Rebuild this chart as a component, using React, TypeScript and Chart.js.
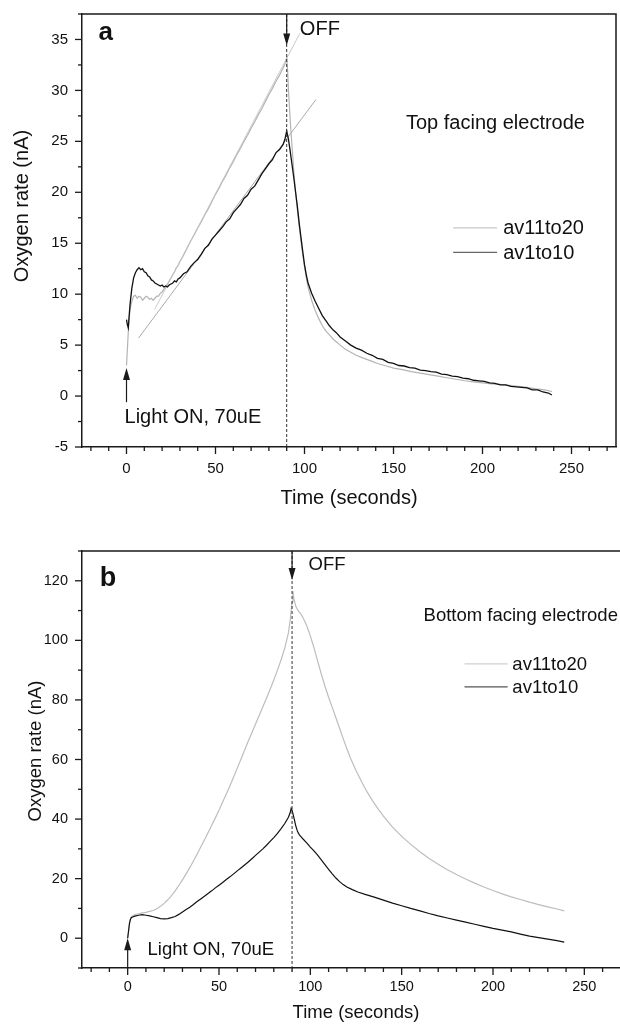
import React, { useEffect, useRef } from "react";
import { Chart, registerables } from "chart.js";
Chart.register(...registerables);

// ---------- DATA ----------
const seriesLabels = ["av11to20", "av1to10"];
const xAxisTitle = "Time (seconds)";
const yAxisTitle = "Oxygen rate (nA)";

// Panel a (top facing electrode): [time s, rate nA]
const topAv1to10: [number, number][] = [
  [0, 7.5], [0.5, 7.0], [1, 6.7], [1.5, 7.9], [2, 9.0], [3, 10.6], [4, 11.6], [5, 12.1], [6, 12.4], [7, 12.6],
  [8, 12.4], [9, 12.5], [10, 12.2], [11, 12.1], [12, 11.8], [13, 11.7], [14, 11.4], [15, 11.3], [16, 11.1], [17, 11.0],
  [18, 10.9], [19, 10.8], [20, 10.9], [21, 10.7], [22, 10.8], [23, 10.7], [24, 10.9], [25, 11.0], [26, 11.1], [27, 11.3],
  [28, 11.2], [29, 11.5], [30, 11.6], [32, 12.0], [34, 12.2], [36, 12.7], [38, 13.1], [40, 13.4], [42, 13.9], [44, 14.5],
  [46, 14.8], [48, 15.4], [50, 15.8], [52, 16.2], [54, 16.6], [56, 17.1], [58, 17.4], [60, 18.0], [62, 18.4], [64, 18.8],
  [66, 19.4], [68, 19.7], [70, 20.3], [72, 20.6], [74, 21.2], [76, 21.8], [78, 22.3], [80, 22.8], [82, 23.2], [84, 23.9],
  [86, 24.2], [88, 24.7], [89, 25.2], [90, 26.0], [91, 25.2], [92, 24.0], [93, 22.7], [94, 21.4], [95, 20.0], [96, 18.6],
  [97, 17.0], [98, 15.6], [99, 14.2], [100, 12.9], [101, 11.9], [102, 11.1], [104, 10.1], [106, 9.3], [108, 8.6], [110, 7.9],
  [112, 7.4], [114, 6.9], [116, 6.5], [118, 6.2], [120, 5.8], [123, 5.4], [126, 5.0], [129, 4.7], [132, 4.5], [135, 4.2],
  [138, 4.0], [141, 3.7], [144, 3.6], [147, 3.3], [150, 3.2], [153, 3.0], [156, 2.95], [159, 2.8], [162, 2.75], [165, 2.55],
  [168, 2.5], [171, 2.4], [174, 2.35], [177, 2.15], [180, 2.1], [183, 1.95], [186, 1.9], [189, 1.75], [192, 1.7], [195, 1.55],
  [198, 1.5], [201, 1.45], [204, 1.3], [207, 1.25], [210, 1.1], [213, 1.1], [216, 0.95], [219, 0.9], [222, 0.85], [225, 0.8],
  [228, 0.6], [231, 0.6], [234, 0.4], [237, 0.3], [239, 0.1],
];
const topAv11to20: [number, number][] = [
  [0, 3.0], [0.5, 4.6], [1, 6.3], [1.5, 7.6], [2, 8.5], [3, 9.3], [4, 9.8], [5, 9.9], [6, 9.6], [7, 9.8],
  [8, 9.7], [9, 9.4], [10, 9.6], [11, 9.8], [12, 9.7], [13, 9.5], [14, 9.6], [15, 9.4], [16, 9.6], [17, 9.8],
  [18, 9.8], [19, 10.1], [20, 10.2], [21, 10.5], [22, 10.7], [23, 11.0], [24, 11.3], [25, 11.6], [26, 11.9], [27, 12.2],
  [28, 12.6], [29, 12.8], [30, 13.2], [32, 13.8], [34, 14.5], [36, 15.2], [38, 15.8], [40, 16.5], [42, 17.1], [44, 17.8],
  [46, 18.4], [48, 19.1], [50, 19.8], [52, 20.4], [54, 21.1], [56, 21.7], [58, 22.4], [60, 23.0], [62, 23.7], [64, 24.3],
  [66, 25.0], [68, 25.6], [70, 26.3], [72, 26.9], [74, 27.6], [76, 28.2], [78, 28.9], [80, 29.6], [82, 30.2], [84, 30.9],
  [86, 31.5], [88, 32.2], [89, 32.6], [90, 33.2], [90.5, 32.0], [91, 30.0], [92, 27.0], [93, 24.5], [94, 22.0], [95, 20.0],
  [96, 18.3], [97, 16.7], [98, 15.2], [99, 13.9], [100, 12.7], [101, 11.6], [102, 10.7], [104, 9.4], [106, 8.4], [108, 7.6],
  [110, 6.9], [112, 6.4], [114, 6.0], [116, 5.6], [118, 5.3], [120, 5.0], [123, 4.6], [126, 4.3], [129, 4.0], [132, 3.8],
  [135, 3.6], [138, 3.4], [141, 3.2], [144, 3.05], [147, 2.9], [150, 2.75], [155, 2.6], [160, 2.4], [165, 2.25], [170, 2.1],
  [175, 1.95], [180, 1.8], [185, 1.65], [190, 1.5], [195, 1.4], [200, 1.3], [205, 1.2], [210, 1.15], [215, 1.05], [220, 0.95],
  [225, 0.85], [230, 0.7], [235, 0.6], [239, 0.45],
];
// linear fits drawn in panel a
const topFitAv1to10: [number, number][] = [[6.8, 5.7], [106.4, 29.1]];
const topFitAv11to20: [number, number][] = [[15.8, 8.5], [97.4, 35.6]];

// Panel b (bottom facing electrode)
const botAv11to20: [number, number][] = [
  [0, 0], [0.5, 2.5], [1, 5.0], [1.5, 6.5], [2, 7.2], [3, 7.6], [4, 7.9], [6, 8.2], [8, 8.5], [10, 8.7],
  [12, 9.0], [14, 9.3], [16, 9.9], [18, 10.7], [20, 11.7], [22, 12.9], [24, 14.3], [26, 15.9], [28, 17.7], [30, 19.6],
  [32, 21.6], [34, 23.7], [36, 25.9], [38, 28.2], [40, 30.6], [42, 33.0], [44, 35.4], [46, 37.9], [48, 40.4], [50, 43.0],
  [52, 45.7], [54, 48.4], [56, 51.2], [58, 54.1], [60, 57.1], [62, 60.1], [64, 63.1], [66, 66.1], [68, 69.0], [70, 71.9],
  [72, 74.8], [74, 77.7], [76, 80.6], [78, 83.6], [80, 86.7], [82, 90.0], [84, 93.5], [86, 97.4], [88, 102.5], [89, 107.0],
  [90, 113.0], [90.5, 116.5], [91, 114.0], [92, 111.5], [93, 110.3], [94, 109.4], [95, 108.7], [96, 107.6], [98, 105.0], [100, 101.5],
  [102, 97.5], [104, 93.0], [106, 88.7], [108, 84.6], [110, 80.9], [112, 77.5], [114, 74.0], [116, 70.5], [118, 67.0], [120, 63.6],
  [122, 60.4], [125, 56.3], [128, 52.6], [131, 49.2], [134, 46.2], [137, 43.5], [140, 41.0], [145, 37.3], [150, 34.2], [155, 31.5],
  [160, 29.0], [165, 26.8], [170, 24.8], [175, 23.0], [180, 21.4], [185, 19.9], [190, 18.5], [195, 17.2], [200, 16.0], [205, 14.9],
  [210, 13.9], [215, 13.0], [220, 12.1], [225, 11.3], [230, 10.5], [235, 9.8], [239, 9.2],
];
const botAv1to10: [number, number][] = [
  [0, 0], [0.5, 2.5], [1, 5.0], [1.5, 6.3], [2, 6.9], [3, 7.2], [4, 7.4], [6, 7.7], [8, 7.9], [10, 7.7],
  [12, 7.5], [14, 7.2], [16, 6.9], [18, 6.6], [20, 6.5], [22, 6.6], [24, 6.9], [26, 7.3], [28, 8.0], [30, 8.8],
  [32, 9.6], [34, 10.4], [36, 11.3], [38, 12.3], [40, 13.2], [42, 14.1], [44, 15.0], [46, 15.9], [48, 16.9], [50, 17.8],
  [52, 18.7], [54, 19.7], [56, 20.6], [58, 21.6], [60, 22.6], [62, 23.6], [64, 24.6], [66, 25.6], [68, 26.7], [70, 27.8],
  [72, 28.9], [74, 30.0], [76, 31.2], [78, 32.5], [80, 33.8], [82, 35.2], [84, 36.8], [86, 38.5], [88, 40.6], [89, 42.2],
  [89.5, 43.6], [90, 43.0], [91, 40.5], [92, 37.8], [93, 35.8], [94, 34.7], [95, 34.0], [96, 33.3], [98, 32.0], [100, 30.6],
  [102, 29.3], [104, 27.9], [106, 26.3], [108, 24.7], [110, 23.1], [112, 21.6], [114, 20.2], [116, 19.0], [118, 18.0], [120, 17.2],
  [123, 16.3], [126, 15.5], [130, 14.7], [135, 13.8], [140, 12.8], [145, 11.8], [150, 10.9], [155, 10.0], [160, 9.2], [165, 8.3],
  [170, 7.5], [175, 6.8], [180, 6.1], [185, 5.4], [190, 4.7], [195, 4.0], [200, 3.3], [205, 2.7], [210, 2.1], [215, 1.4],
  [220, 0.7], [225, 0.2], [230, -0.3], [235, -0.8], [239, -1.3],
];

const xRange = [-25, 275];
const topYRange = [-5, 37.5];
const botYRange = [-10, 130];
const lightOffTime = 90;

// ---------- DRAWING HELPERS ----------
const FAMILY = "'Liberation Sans', Arial, Helvetica, sans-serif";
const INK = "#1a1a1a";

type Ann = {
  panel: string;
  panelPos: [number, number];
  panelFont: number;
  texts: { text: string; x: number; y: number }[];
  font: number;
  tickFont: number;
  xLabelGap: number;
  arrows: { x: number; from: number; to: number }[];
  legend: { y: number[]; x0: number; x1: number; tx: number; colors: string[] };
  xTitle: [number, number];
  yTitle: [number, number];
  majorX: number; minorX: number; majorY: number; minorY: number;
};

function annPlugin(a: Ann) {
  return {
    id: "ann",
    afterDraw(chart: any) {
      const { ctx, chartArea: ca, scales } = chart;
      const X = (v: number) => scales.x.getPixelForValue(v);
      const Y = (v: number) => scales.y.getPixelForValue(v);
      ctx.save();
      // frame top + right
      ctx.strokeStyle = INK;
      ctx.lineWidth = 1.5;
      ctx.beginPath();
      ctx.moveTo(ca.left, ca.top);
      ctx.lineTo(ca.right, ca.top);
      ctx.lineTo(ca.right, ca.bottom);
      ctx.stroke();
      // ticks + tick labels
      ctx.lineWidth = 1.3;
      ctx.fillStyle = "#111";
      ctx.font = `${a.tickFont}px ${FAMILY}`;
      const [x0, x1] = [scales.x.min, scales.x.max];
      ctx.textAlign = "center";
      ctx.textBaseline = "top";
      for (let v = Math.ceil(x0 / a.minorX) * a.minorX; v <= x1; v += a.minorX) {
        const major = Math.abs(v % a.majorX) < 1e-6;
        const len = major ? 7 : 4;
        const px = X(v);
        ctx.beginPath();
        ctx.moveTo(px, ca.bottom);
        ctx.lineTo(px, ca.bottom + len);
        ctx.stroke();
        if (major) ctx.fillText(String(Math.round(v)), px, ca.bottom + a.xLabelGap);
      }
      const [y0, y1] = [scales.y.min, scales.y.max];
      const n = Math.round((y1 - y0) / a.minorY);
      ctx.textAlign = "right";
      ctx.textBaseline = "middle";
      for (let i = 0; i <= n; i++) {
        const v = y0 + i * a.minorY;
        const r = Math.abs(v / a.majorY - Math.round(v / a.majorY));
        const major = r < 1e-6;
        const len = major ? 7 : 4;
        const py = Y(v);
        ctx.beginPath();
        ctx.moveTo(ca.left, py);
        ctx.lineTo(ca.left - len, py);
        ctx.stroke();
        if (major) ctx.fillText(String(Math.round(v)), ca.left - 14, py);
      }
      // dashed OFF line
      ctx.strokeStyle = "#333";
      ctx.lineWidth = 1;
      ctx.setLineDash([3, 2]);
      ctx.beginPath();
      ctx.moveTo(X(lightOffTime), ca.top);
      ctx.lineTo(X(lightOffTime), ca.bottom);
      ctx.stroke();
      ctx.setLineDash([]);
      // arrows
      ctx.strokeStyle = INK;
      ctx.fillStyle = INK;
      ctx.lineWidth = 1.2;
      for (const ar of a.arrows) {
        const px = X(ar.x);
        const pf = Y(ar.from);
        const pt = Y(ar.to);
        const dir = pt > pf ? 1 : -1;
        ctx.beginPath();
        ctx.moveTo(px, pf);
        ctx.lineTo(px, pt - dir * 6);
        ctx.stroke();
        ctx.beginPath();
        ctx.moveTo(px, pt);
        ctx.lineTo(px - 3.5, pt - dir * 12);
        ctx.lineTo(px + 3.5, pt - dir * 12);
        ctx.closePath();
        ctx.fill();
      }
      // texts
      ctx.fillStyle = "#111";
      ctx.textBaseline = "alphabetic";
      ctx.textAlign = "left";
      ctx.font = `${a.font}px ${FAMILY}`;
      for (const t of a.texts) ctx.fillText(t.text, X(t.x), Y(t.y));
      ctx.font = `bold ${a.panelFont}px ${FAMILY}`;
      ctx.fillText(a.panel, X(a.panelPos[0]), Y(a.panelPos[1]));
      // legend
      ctx.font = `${a.font}px ${FAMILY}`;
      ctx.textBaseline = "middle";
      seriesLabels.forEach((lab, i) => {
        const py = Y(a.legend.y[i]);
        ctx.strokeStyle = a.legend.colors[i];
        ctx.lineWidth = 1.2;
        ctx.beginPath();
        ctx.moveTo(X(a.legend.x0), py);
        ctx.lineTo(X(a.legend.x1), py);
        ctx.stroke();
        ctx.fillStyle = "#111";
        ctx.fillText(lab, X(a.legend.tx), py + 1);
      });
      // axis titles
      ctx.textAlign = "center";
      ctx.textBaseline = "middle";
      ctx.fillText(xAxisTitle, a.xTitle[0], a.xTitle[1]);
      ctx.save();
      ctx.translate(a.yTitle[0], a.yTitle[1]);
      ctx.rotate(-Math.PI / 2);
      ctx.fillText(yAxisTitle, 0, 0);
      ctx.restore();
      ctx.restore();
    },
  };
}

function pts(arr: [number, number][]) {
  return arr.map(([x, y]) => ({ x, y }));
}

function lineDs(label: string, arr: [number, number][], color: string, width: number) {
  return {
    label,
    data: pts(arr),
    borderColor: color,
    backgroundColor: color,
    borderWidth: width,
    showLine: true,
    pointRadius: 0,
    tension: 0,
  };
}

function makeConfig(opts: {
  datasets: any[];
  yRange: number[];
  padding: any;
  xHeight: number;
  ann: Ann;
}) {
  return {
    type: "scatter",
    data: { datasets: opts.datasets },
    options: {
      animation: false,
      responsive: false,
      events: [],
      layout: { padding: opts.padding },
      plugins: { legend: { display: false }, tooltip: { enabled: false } },
      scales: {
        x: {
          type: "linear",
          min: xRange[0],
          max: xRange[1],
          afterFit: (s: any) => { s.height = opts.xHeight; s.paddingLeft = 0; s.paddingRight = 0; },
          grid: { display: false, drawTicks: false },
          border: { display: true, color: INK, width: 1.5 },
          ticks: { display: false },
        },
        y: {
          type: "linear",
          min: opts.yRange[0],
          max: opts.yRange[1],
          afterFit: (s: any) => { s.width = 82; s.paddingTop = 0; s.paddingBottom = 0; },
          grid: { display: false, drawTicks: false },
          border: { display: true, color: INK, width: 1.5 },
          ticks: { display: false },
        },
      },
    },
    plugins: [annPlugin(opts.ann)],
  };
}

export default function App() {
  const topRef = useRef<HTMLCanvasElement>(null);
  const botRef = useRef<HTMLCanvasElement>(null);

  useEffect(() => {
    const topCfg = makeConfig({
      datasets: [
        lineDs(seriesLabels[1], topAv1to10, "#111111", 1.3),
        lineDs("fit " + seriesLabels[1], topFitAv1to10, "#a0a0a0", 0.9),
        lineDs("fit " + seriesLabels[0], topFitAv11to20, "#c4c4c4", 0.9),
        lineDs(seriesLabels[0], topAv11to20, "#b4b4b4", 1.2),
      ],
      yRange: topYRange,
      padding: { left: 0, top: 14, right: 4, bottom: 0 },
      xHeight: 73,
      ann: {
        panel: "a",
        panelPos: [-15.8, 34.9],
        panelFont: 26,
        font: 20,
        tickFont: 15,
        xLabelGap: 14,
        texts: [
          { text: "OFF", x: 97.4, y: 35.4 },
          { text: "Top facing electrode", x: 157, y: 26.2 },
          { text: "Light ON, 70uE", x: -1.1, y: -2.65 },
        ],
        arrows: [
          { x: lightOffTime, from: topYRange[1], to: 34.4 },
          { x: 0, from: -0.6, to: 2.75 },
        ],
        legend: { y: [16.5, 14.1], x0: 183.5, x1: 208.2, tx: 211.6, colors: ["#c8c8c8", "#666666"] },
        xTitle: [349, 498],
        yTitle: [22, 206],
        majorX: 50, minorX: 10, majorY: 5, minorY: 2.5,
      },
    });
    const botCfg = makeConfig({
      datasets: [
        lineDs(seriesLabels[1], botAv1to10, "#111111", 1.2),
        lineDs(seriesLabels[0], botAv11to20, "#bdbdbd", 1.2),
      ],
      yRange: botYRange,
      padding: { left: 0, top: 31, right: 10, bottom: 0 },
      xHeight: 56,
      ann: {
        panel: "b",
        panelPos: [-15.3, 118.3],
        panelFont: 27,
        font: 18.5,
        tickFont: 14.5,
        xLabelGap: 12,
        texts: [
          { text: "OFF", x: 99, y: 123.7 },
          { text: "Bottom facing electrode", x: 162, y: 106.6 },
          { text: "Light ON, 70uE", x: 10.9, y: -5.7 },
        ],
        arrows: [
          { x: lightOffTime, from: botYRange[1], to: 120.3 },
          { x: 0, from: botYRange[0], to: 0 },
        ],
        legend: { y: [92.1, 84.4], x0: 184.4, x1: 208, tx: 210.6, colors: ["#cfcfcf", "#555555"] },
        xTitle: [356, 493],
        yTitle: [36, 231],
        majorX: 50, minorX: 10, majorY: 20, minorY: 10,
      },
    });
    const c1 = new Chart(topRef.current as HTMLCanvasElement, topCfg as any);
    const c2 = new Chart(botRef.current as HTMLCanvasElement, botCfg as any);
    return () => {
      c1.destroy();
      c2.destroy();
    };
  }, []);

  return (
    <div
      style={{
        position: "absolute",
        left: 0,
        top: 0,
        width: 620,
        height: 1024,
        overflow: "hidden",
        background: "#fff",
      }}
    >
      <canvas
        ref={topRef}
        width={620}
        height={520}
        style={{ position: "absolute", left: 0, top: 0, width: 620, height: 520, display: "block" }}
      />
      <canvas
        ref={botRef}
        width={640}
        height={504}
        style={{ position: "absolute", left: 0, top: 520, width: 640, height: 504, display: "block" }}
      />
    </div>
  );
}
